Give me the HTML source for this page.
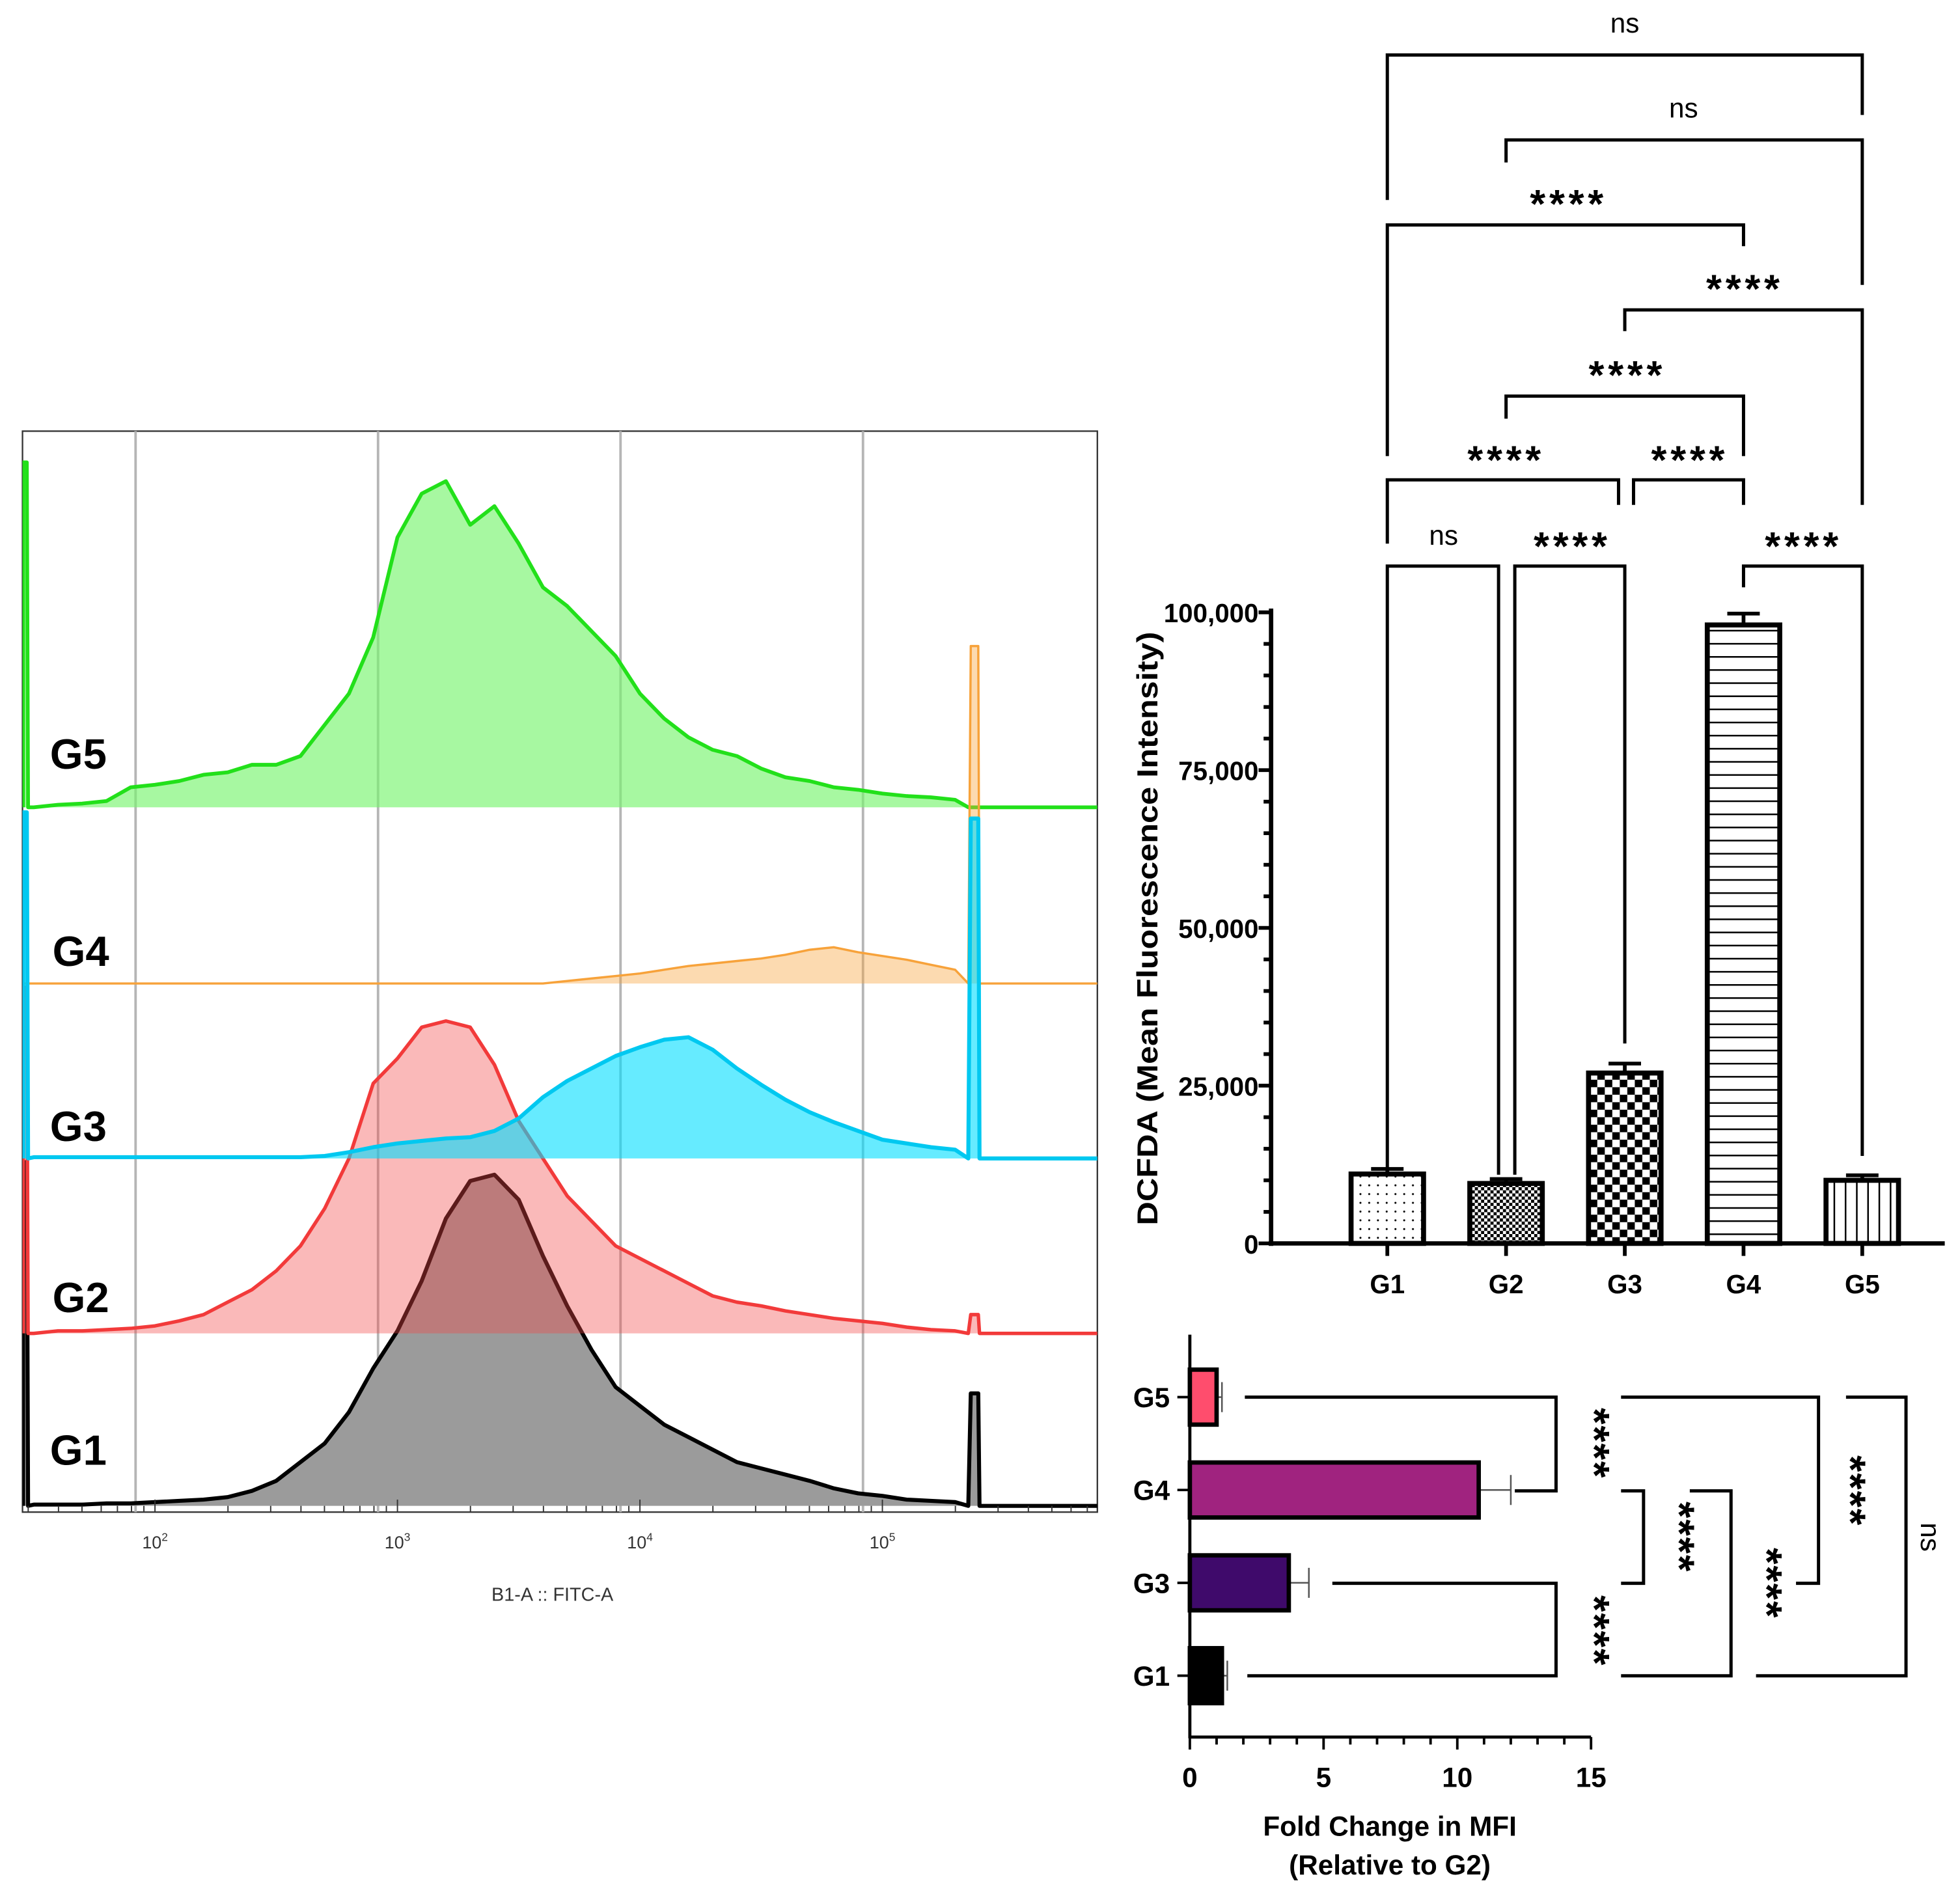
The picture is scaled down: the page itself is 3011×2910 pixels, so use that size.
<!DOCTYPE html>
<html><head><meta charset="utf-8"><style>
html,body{margin:0;padding:0;background:#fff;}
svg{display:block;}
text{font-family:"Liberation Sans",Arial,sans-serif;}
</style></head><body>
<svg id="fig" xmlns="http://www.w3.org/2000/svg" width="3011" height="2910" viewBox="0 0 1568.2 1515.6">
<defs>
<pattern id="pDots" width="7" height="7" patternUnits="userSpaceOnUse"><rect width="7" height="7" fill="#fff"/><circle cx="3.5" cy="3.5" r="0.8" fill="#000"/></pattern>
<pattern id="pFine" width="5" height="5" patternUnits="userSpaceOnUse"><rect width="5" height="5" fill="#fff"/><rect width="2.5" height="2.5" fill="#000"/><rect x="2.5" y="2.5" width="2.5" height="2.5" fill="#000"/></pattern>
<pattern id="pCheck" width="12" height="12" patternUnits="userSpaceOnUse"><rect width="12" height="12" fill="#fff"/><rect width="6" height="6" fill="#000"/><rect x="6" y="6" width="6" height="6" fill="#000"/></pattern>
<pattern id="pHoriz" width="10" height="10.5" patternUnits="userSpaceOnUse"><rect width="10" height="10.5" fill="#fff"/><rect y="0" width="10" height="1.3" fill="#000"/></pattern>
<pattern id="pVert" width="9" height="10" patternUnits="userSpaceOnUse"><rect width="9" height="10" fill="#fff"/><rect x="0" width="1.3" height="10" fill="#000"/></pattern>
<clipPath id="histClip"><rect x="18" y="345" width="860" height="865"/></clipPath>
</defs>
<g id="hist"></g>
<g id="bars"></g>
<g id="hbars"></g>
</svg>
<script>
// ---------- Histogram data ----------
const histLogX = [1.5,1.6,1.7,1.8,1.9,2.0,2.1,2.2,2.3,2.4,2.5,2.6,2.7,2.8,2.9,3.0,3.1,3.2,3.3,3.4,3.5,3.6,3.7,3.8,3.9,4.0,4.1,4.2,4.3,4.4,4.5,4.6,4.7,4.8,4.9,5.0,5.1,5.2,5.3];
const histG1 = [1,1,1,2,2,3,4,5,7,12,20,35,50,75,110,140,180,230,260,265,245,200,160,125,95,80,65,55,45,35,30,25,20,14,10,8,5,4,3];
const histG2 = [0,2,2,3,4,6,10,15,25,35,50,70,100,140,200,220,245,250,245,215,170,140,110,90,70,60,50,40,30,25,22,18,15,12,10,8,5,3,2];
const histG3 = [1,1,1,1,1,1,1,1,1,1,1,1,2,5,9,12,14,16,17,22,32,49,62,72,82,89,95,97,87,72,59,47,37,29,22,15,12,9,7];
const histG4 = [0,0,0,0,0,0,0,0,0,0,0,0,0,0,0,0,0,0,0,0,0,0,2,4,6,8,11,14,16,18,20,23,27,29,25,22,19,15,11];
const histG5 = [0,2,3,5,16,18,21,26,28,34,34,41,66,91,136,216,251,261,226,241,211,176,161,141,121,91,71,56,46,41,31,24,21,16,14,11,9,8,6];
const histSpikeHigh = [90,15,272,270,0];
const histLeftSpike = [275,277,277,0,276];
const histGroups = ["G1","G2","G3","G4","G5"];
const histDecades = [2,3,4,5];
// ---------- MFI bar chart data ----------
const mfiCats = ["G1","G2","G3","G4","G5"];
const mfiValues = [11000,9500,27000,98000,10000];
const mfiErrors = [800,700,1500,1800,800];
const mfiTicks = [0,25000,50000,75000,100000];
const mfiTickLabels = ["0","25,000","50,000","75,000","100,000"];
// ---------- Fold-change chart data ----------
const fcCats = ["G5","G4","G3","G1"];
const fcValues = [1.0,10.8,3.7,1.2];
const fcErrors = [0.2,1.2,0.75,0.2];
const fcTicks = [0,5,10,15];

const NS="http://www.w3.org/2000/svg";
function mk(parent, tag, attrs, txt){
  const e=document.createElementNS(NS,tag);
  for(const k in attrs) e.setAttribute(k,attrs[k]);
  if(txt!==undefined) e.textContent=txt;
  parent.appendChild(e); return e;
}

// ================= HISTOGRAM =================
const H=document.getElementById('hist');
const hx = v => 318 + (v-3)*194;
const baseY = [1205,1067,927,787,646];
const hy = (c,i) => baseY[i] - c;
const lineCol=["#000000","#f23a3a","#00c8f0","#f7a23a","#22e01a"];
const fillCol=["#9b9b9b","rgba(242,70,70,0.38)","rgba(0,222,255,0.6)","rgba(247,162,58,0.4)","rgba(120,245,110,0.65)"];
const series=[histG1,histG2,histG3,histG4,histG5];
const leftLog = 1.456, spikeLog = 5.38;

let r=mk(H,'rect',{x:18,y:345,width:860,height:865,fill:'#fff',stroke:'#333','stroke-width':1.2});


histDecades.forEach(d=>{
  const g=mk(H,'line',{x1:hx(d-0.08),x2:hx(d-0.08),y1:345,y2:1210,stroke:'#b5b5b5','stroke-width':2});
  
  
});
const HC=mk(H,'g',{'clip-path':'url(#histClip)'});
function pathFor(i){
  const s=series[i]; const b=baseY[i];
  let d=`M${hx(leftLog)},${b} L${hx(leftLog)},${b-histLeftSpike[i]} L${hx(leftLog)+3},${b-histLeftSpike[i]} L${hx(leftLog)+4},${b}`;
  histLogX.forEach((v,k)=>{ d+=` L${hx(v)},${hy(s[k],i)}`; });
  const sx=hx(spikeLog);
  d+=` L${sx-5},${b} L${sx-3},${b-histSpikeHigh[i]} L${sx+3},${b-histSpikeHigh[i]} L${sx+4},${b} L878,${b}`;
  return d;
}
function drawFill(i){
  const p=mk(HC,'path',{d:pathFor(i)+` L878,${baseY[i]} Z`,fill:fillCol[i],stroke:'none'});
  
  
}
function drawLine(i,w){
  const p=mk(HC,'path',{d:pathFor(i),fill:'none',stroke:lineCol[i],'stroke-width':w,'stroke-linejoin':'round'});
  
  
}
drawFill(4); drawLine(4,3);
drawFill(3); drawLine(3,1.8);
drawFill(0); drawLine(0,3.2);
drawFill(1); drawLine(1,2.8);
drawFill(2); drawLine(2,3.2);
const hlabX=[40,42,40,42,40], hlabY=[1172,1050,913,773,615];
histGroups.forEach((g,i)=>{
  const t=mk(H,'text',{x:hlabX[i],y:hlabY[i],'font-size':34,'font-weight':'bold',fill:'#000'},g);
  
  
});
for(let d=1; d<=5; d++){
  for(let m=1;m<=9;m++){
    const v=d+Math.log10(m); const x=hx(v);
    if(x<18||x>878) continue;
    const t=mk(H,'line',{x1:x,x2:x,y1:1210,y2:m===1?1200:1205,stroke:'#333','stroke-width':1});
    
    
  }
}
histDecades.forEach(d=>{
  const t=mk(H,'text',{x:hx(d),y:1239,'font-size':14,'text-anchor':'middle',fill:'#333'});
  
  
  t.appendChild(document.createTextNode('10'));
  mk(t,'tspan',{dy:-6,'font-size':9},String(d));
});
let xl=mk(H,'text',{x:442,y:1281,'font-size':15,'text-anchor':'middle',fill:'#333'},'B1-A :: FITC-A');



// ================= MFI BAR CHART =================
const B=document.getElementById('bars');
const bx0=1017, by0=995, byTop=490;
const by = v => by0 - v/100000*(by0-byTop);
const bxc = i => 1110 + i*95;
const pats=["url(#pDots)","url(#pFine)","url(#pCheck)","url(#pHoriz)","url(#pVert)"];
let ax=mk(B,'line',{x1:bx0,x2:bx0,y1:by(100000)-3,y2:by0+2,stroke:'#000','stroke-width':3.5});


ax=mk(B,'line',{x1:bx0-2,x2:1556,y1:by0,y2:by0,stroke:'#000','stroke-width':3.5});


for(let v=0; v<=100000; v+=5000){
  const major = v%25000===0;
  const t=mk(B,'line',{x1:bx0-(major?10:6),x2:bx0,y1:by(v),y2:by(v),stroke:'#000','stroke-width':3});
  
  
}
mfiTicks.forEach((v,k)=>{
  const t=mk(B,'text',{x:1007,y:by(v)+8,'font-size':21,'font-weight':'bold','text-anchor':'end',fill:'#000'},mfiTickLabels[k]);
  
  
});
let yt=mk(B,'text',{x:0,y:0,'font-size':23,'font-weight':'bold','text-anchor':'middle',fill:'#000',transform:'translate(926,743) rotate(-90)',textLength:475,lengthAdjust:'spacingAndGlyphs'},'DCFDA (Mean Fluorescence Intensity)');


mfiCats.forEach((c,i)=>{
  const x=bxc(i), w=58;
  const e1=mk(B,'line',{x1:x,x2:x,y1:by(mfiValues[i]),y2:by(mfiValues[i]+mfiErrors[i]),stroke:'#000','stroke-width':3});
  
  
  const e2=mk(B,'line',{x1:x-13,x2:x+13,y1:by(mfiValues[i]+mfiErrors[i]),y2:by(mfiValues[i]+mfiErrors[i]),stroke:'#000','stroke-width':3});
  
  
  const b=mk(B,'rect',{x:x-w/2,y:by(mfiValues[i]),width:w,height:by0-by(mfiValues[i]),fill:pats[i],stroke:'#000','stroke-width':4});
  
  
  const tk=mk(B,'line',{x1:x,x2:x,y1:by0,y2:by0+10,stroke:'#000','stroke-width':3});
  
  
  const t=mk(B,'text',{x:x,y:1035,'font-size':21,'font-weight':'bold','text-anchor':'middle',fill:'#000'},c);
  
  
});
const brackets=[
 [1110,1490,44,160,92,'ns',1300,26],
 [1205,1490,112,130,228,'ns',1347,94],
 [1110,1395,180,365,197,'****',1255,174],
 [1300,1490,248,265,404,'****',1396,242],
 [1205,1395,317,335,365,'****',1302,311],
 [1110,1295,384,435,404,'****',1205,379],
 [1307,1395,384,404,404,'****',1352,379],
 [1110,1199,453,935,940,'ns',1155,436],
 [1212,1300,453,940,835,'****',1258,448],
 [1395,1490,453,470,925,'****',1443,448]
];
brackets.forEach(bk=>{
  const [x1,x2,y,l,rr,lab,tx,ty]=bk;
  const p=mk(B,'path',{d:`M${x1},${l} L${x1},${y} L${x2},${y} L${x2},${rr}`,fill:'none',stroke:'#000','stroke-width':2.6});
  
  
  const t=mk(B,'text',{x:tx,y:ty,'font-size':lab==='ns'?22:32,'font-weight':lab==='ns'?'normal':'bold','text-anchor':'middle',fill:'#000','letter-spacing':lab==='ns'?0:3},lab);
  
  
});

// ================= FOLD CHANGE CHART =================
const F=document.getElementById('hbars');
const fx0=952, fy0=1390, fyTop=1068;
const fx = v => fx0 + v*(1273-fx0)/15;
const fyc = i => 1118 + i*74.3;
const fcCols=["#ff4d6d","#a0237f","#3f0a6b","#000000"];
ax=mk(F,'line',{x1:fx0,x2:fx0,y1:fyTop,y2:fy0+1,stroke:'#000','stroke-width':2.5});


ax=mk(F,'line',{x1:fx0-1,x2:fx(15),y1:fy0,y2:fy0,stroke:'#000','stroke-width':2.5});


for(let v=0; v<=15; v++){
  const major=v%5===0;
  const t=mk(F,'line',{x1:fx(v),x2:fx(v),y1:fy0,y2:fy0+(major?10:6),stroke:'#000','stroke-width':2});
  
  
}
fcTicks.forEach(v=>{
  const t=mk(F,'text',{x:fx(v),y:1430,'font-size':22,'font-weight':'bold','text-anchor':'middle',fill:'#000'},String(v));
  
  
});
let t1=mk(F,'text',{x:1112,y:1469,'font-size':22,'font-weight':'bold','text-anchor':'middle',fill:'#000'},'Fold Change in MFI');


let t2=mk(F,'text',{x:1112,y:1500,'font-size':22,'font-weight':'bold','text-anchor':'middle',fill:'#000'},'(Relative to G2)');


fcCats.forEach((c,i)=>{
  const y=fyc(i), h=44;
  const e=mk(F,'line',{x1:fx(fcValues[i]),x2:fx(fcValues[i]+fcErrors[i]),y1:y,y2:y,stroke:'#555','stroke-width':1.3});
  
  
  const ec=mk(F,'line',{x1:fx(fcValues[i]+fcErrors[i]),x2:fx(fcValues[i]+fcErrors[i]),y1:y-12,y2:y+12,stroke:'#555','stroke-width':1.3});
  
  
  const b=mk(F,'rect',{x:fx0,y:y-h/2,width:fx(fcValues[i])-fx0,height:h,fill:fcCols[i],stroke:'#000','stroke-width':3.5});
  
  
  const tk=mk(F,'line',{x1:fx0-10,x2:fx0,y1:y,y2:y,stroke:'#000','stroke-width':2});
  
  
  const t=mk(F,'text',{x:936,y:y+8,'font-size':22,'font-weight':'bold','text-anchor':'end',fill:'#000'},c);
  
  
});
const fy=[1118,1193,1267,1341];
const fcBrackets=[
 [996,fy[0],1245,fy[1],1212,'****',1270,1155],
 [1066,fy[2],1245,fy[3],998,'****',1270,1305],
 [1297,fy[1],1315,fy[2],1297,'****',1338,1230],
 [1352,fy[1],1385,fy[3],1297,'****',1408,1267],
 [1297,fy[0],1455,fy[2],1437,'****',1475,1193],
 [1477,fy[0],1525,fy[3],1405,'ns',1545,1230]
];
fcBrackets.forEach(bk=>{
  const [a,ya,xv,yb,b2,lab,lx,ly]=bk;
  const p=mk(F,'path',{d:`M${a},${ya} L${xv},${ya} L${xv},${yb} L${b2},${yb}`,fill:'none',stroke:'#000','stroke-width':2.6});
  
  
  const t=mk(F,'text',{x:0,y:0,'font-size':lab==='ns'?22:34,'font-weight':lab==='ns'?'normal':'bold','text-anchor':'middle',fill:'#000','letter-spacing':lab==='ns'?0:1,transform:`translate(${lx-(lab==='ns'?8:6)},${ly}) rotate(90)`},lab);
  
  
});
</script>
</body></html>
